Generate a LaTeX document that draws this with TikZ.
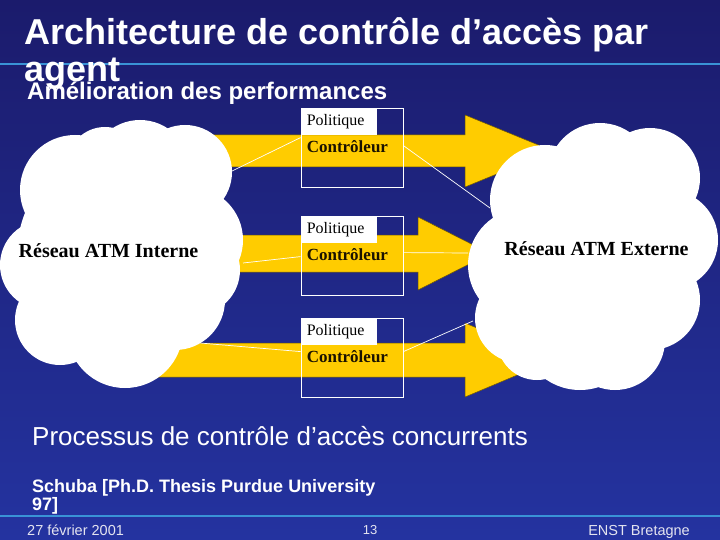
\documentclass[tikz,border=0pt]{standalone}
\usepackage{fontspec}
\setmainfont{Liberation Sans}
\newfontfamily\timesf{Liberation Serif}
\usetikzlibrary{calc}
\definecolor{navy}{HTML}{1B1B6C}
\definecolor{navyb}{HTML}{2433A0}
\definecolor{rulec}{HTML}{3A93D6}
\definecolor{arrowy}{HTML}{FFCC00}
\definecolor{footc}{HTML}{E4E4F0}
\definecolor{ctrlc}{HTML}{1A1200}
\begin{document}
\begin{tikzpicture}[x=1pt,y=-1pt,
  arrowshape/.style={fill=arrowy, draw=black!55!arrowy, line width=0.5pt},
  ctrlbox/.style={draw=white, line width=0.8pt, minimum width=102pt, minimum height=79pt, inner sep=0pt},
  polbox/.style={fill=white, anchor=north west, minimum height=27pt, text width=64pt, inner xsep=6pt, inner ysep=0pt, align=left, font=\timesf\fontsize{16}{18}\selectfont, text=black},
  ctrltext/.style={anchor=base west, font=\timesf\bfseries\fontsize{17}{19}\selectfont, text=ctrlc, inner sep=0pt},
  cloudlabel/.style={anchor=base, font=\timesf\bfseries\fontsize{20}{22}\selectfont, text=black, inner sep=0pt},
  link/.style={draw=white, line width=0.7pt},
  whitetext/.style={anchor=base west, text=white, inner sep=0pt},
  foottext/.style={text=footc, inner sep=0pt, font=\fontsize{14.5}{16}\selectfont},
  rule/.style={draw=rulec, line width=2.5pt}
]
\useasboundingbox (0,0) rectangle (720,540);
% background
\shade[top color=navy, bottom color=navyb] (0,0) rectangle (720,540);
\draw[rule] (0,64) -- (720,64);
\draw[rule, line width=2pt] (0,516) -- (720,516);

% titles
\node[whitetext, font=\bfseries\fontsize{36}{40}\selectfont] (t1) at (24,45) {Architecture de contrôle d’accès par};
\node[whitetext, font=\bfseries\fontsize{36}{40}\selectfont] (t2) at (24,82) {agent};
\node[whitetext, font=\bfseries\fontsize{24}{28}\selectfont] (sub) at (27,100) {Amélioration des performances};

% arrows
\fill[arrowshape] (100,135) -- (465,135) -- (465,115) -- (553,151) -- (465,187) -- (465,167) -- (100,167) -- cycle;
\fill[arrowshape] (150,235) -- (418,235) -- (418,217) -- (490,253.5) -- (418,290) -- (418,272) -- (150,272) -- cycle;
\fill[arrowshape] (100,343) -- (465,343) -- (465,323) -- (553,360) -- (465,397) -- (465,377) -- (100,377) -- cycle;

% left cloud
\fill[white] (122,255) ellipse[x radius=105, y radius=110];
\fill[white] (75,190) circle[radius=55];
\fill[white] (105,165) circle[radius=38];
\fill[white] (140,170) circle[radius=50];
\fill[white] (185,172) circle[radius=47];
\fill[white] (190,240) circle[radius=53];
\fill[white] (195,270) circle[radius=45];
\fill[white] (45,265) circle[radius=45];
\fill[white] (60,320) circle[radius=45];
\fill[white] (125,330) circle[radius=58];
\fill[white] (175,300) circle[radius=50];
\node[cloudlabel] (cin) at (108.5,257) {Réseau ATM Interne};

% right cloud
\fill[white] (594,256) ellipse[x radius=100, y radius=100];
\fill[white] (545,200) circle[radius=55];
\fill[white] (600,175) circle[radius=52];
\fill[white] (650,178) circle[radius=50];
\fill[white] (668,240) circle[radius=50];
\fill[white] (525,265) circle[radius=57];
\fill[white] (520,318) circle[radius=45];
\fill[white] (537,340) circle[radius=40];
\fill[white] (580,330) circle[radius=60];
\fill[white] (615,340) circle[radius=50];
\fill[white] (650,300) circle[radius=50];
\node[cloudlabel] (cex) at (596.5,255) {Réseau ATM Externe};

% controller boxes
\foreach \i/\yc in {1/147.5, 2/255.5, 3/357.5} {
  \node[ctrlbox] (box\i) at (352,\yc) {};
  \node[polbox] (pol\i) at (box\i.north west) {Politique};
  \node[ctrltext] (ctl\i) at ($(box\i.north west)+(6,45)$) {Contrôleur};
}

% cloud contact points
\coordinate (in1) at (230,172);
\coordinate (in2) at (243,263);
\coordinate (in3) at (200,343);
\coordinate (ex1) at (490,208);
\coordinate (ex2) at (468,253);
\coordinate (ex3) at (473,321);

% links
\draw[link] (in1) -- ($(box1.north west)+(0,30)$);
\draw[link] ($(box1.north east)+(0,38)$) -- (ex1);
\draw[link] (in2) -- ($(box2.north west)+(0,41)$);
\draw[link] ($(box2.north east)+(0,37)$) -- (ex2);
\draw[link] (in3) -- ($(box3.north west)+(0,34)$);
\draw[link] ($(box3.north east)+(0,34)$) -- (ex3);

% lower texts
\node[whitetext, font=\fontsize{26}{28}\selectfont] (proc) at (32,445) {Processus de contrôle d’accès concurrents};
\node[whitetext, font=\bfseries\fontsize{18}{20}\selectfont] (ref1) at (32,492) {Schuba [Ph.D. Thesis Purdue University};
\node[whitetext, font=\bfseries\fontsize{18}{20}\selectfont] (ref2) at (32,510) {97]};

% footer
\node[foottext, anchor=base west] (date) at (27,535) {27 février 2001};
\node[foottext, anchor=base, font=\fontsize{13}{15}\selectfont] (page) at (370,534) {13};
\node[foottext, anchor=base east] (inst) at (690,535) {ENST Bretagne};
\end{tikzpicture}
\end{document}
